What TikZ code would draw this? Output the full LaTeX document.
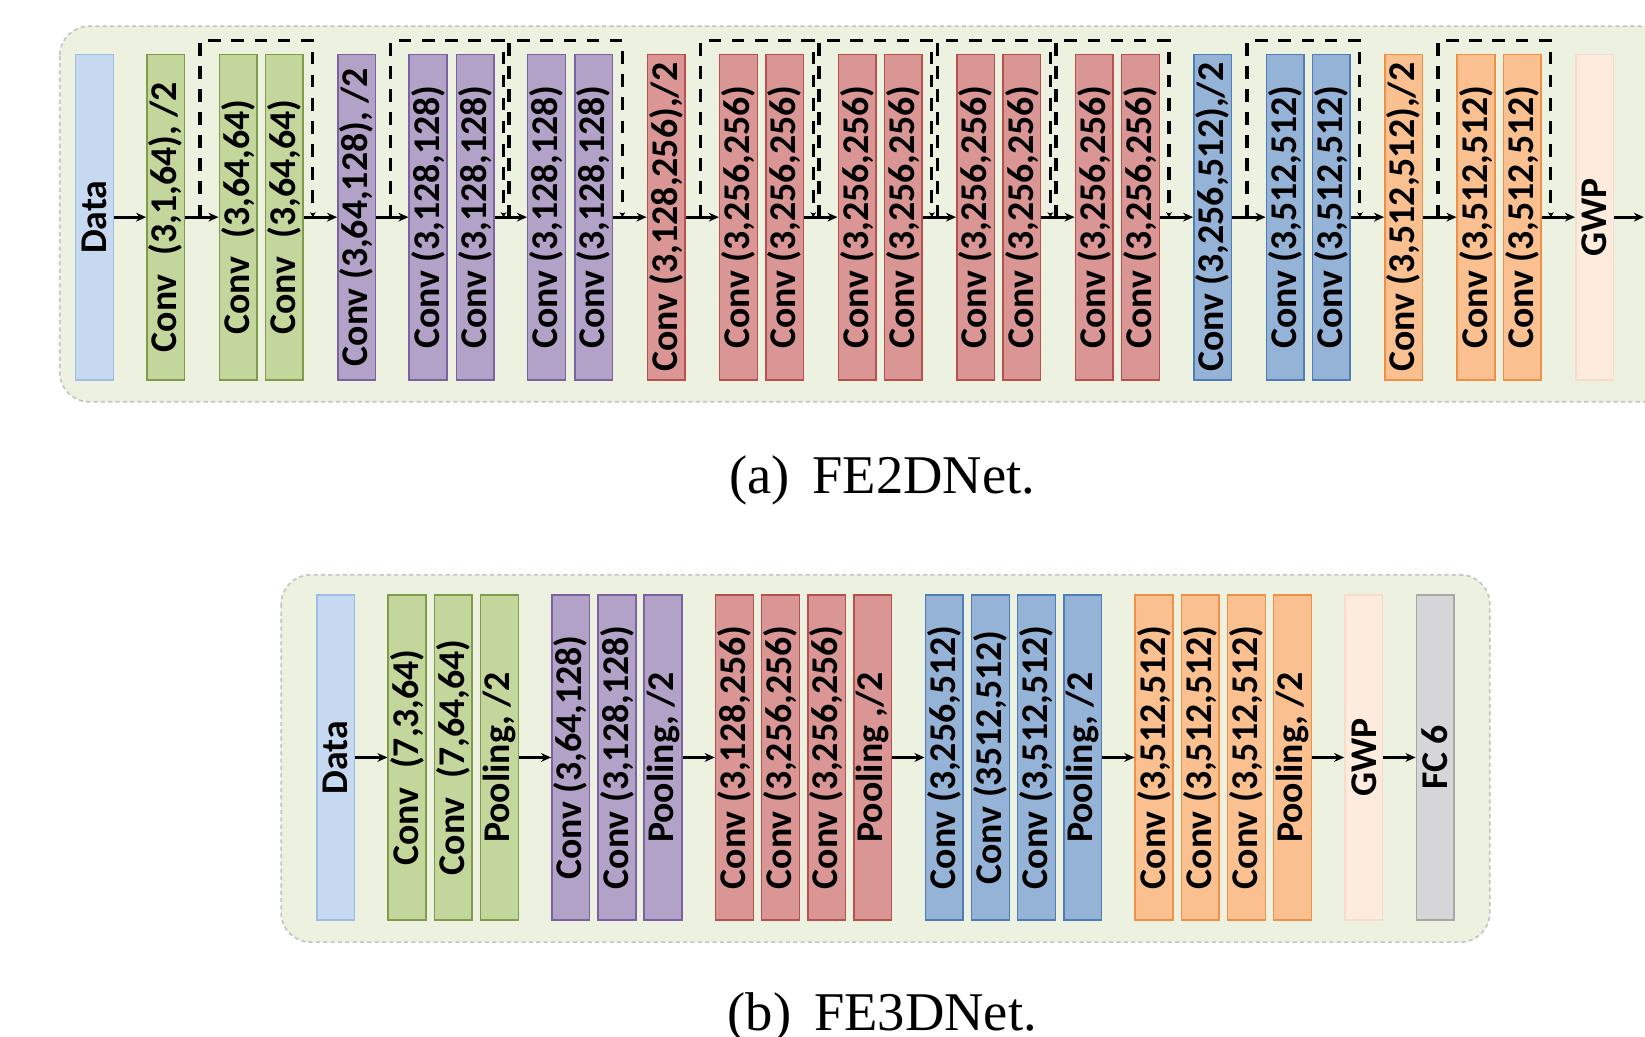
\documentclass[tikz,border=0pt]{standalone}
\usepackage{fontspec}
\newfontfamily\boxfont{Carlito}
\newfontfamily\capfont{Liberation Serif}
\usetikzlibrary{arrows.meta,calc}
\definecolor{panelfill}{HTML}{EDF2E0}
\definecolor{panelline}{HTML}{C4C6C0}
\definecolor{dataF}{HTML}{C6D9F1}
\definecolor{dataD}{HTML}{9DBCE6}
\definecolor{grnF}{HTML}{C3D69B}
\definecolor{grnD}{HTML}{809C4A}
\definecolor{purF}{HTML}{B3A2C7}
\definecolor{purD}{HTML}{7B62A0}
\definecolor{redF}{HTML}{D99694}
\definecolor{redD}{HTML}{B9504D}
\definecolor{bluF}{HTML}{95B3D7}
\definecolor{bluD}{HTML}{4F7DB8}
\definecolor{orgF}{HTML}{FAC090}
\definecolor{orgD}{HTML}{EE9048}
\definecolor{gwpF}{HTML}{FDEBDD}
\definecolor{gwpD}{HTML}{F8DCCB}
\definecolor{fcF}{HTML}{D6D6D8}
\definecolor{fcD}{HTML}{A8A8A8}
\newcommand{\rt}[1]{\rotatebox{90}{#1}}
\newcommand{\skipc}[4]{\draw[skipline] ($(#1.east)!0.44!(#2.west)$) -- ++(0,-168) -| ($(#3.east)!0.27!(#4.west)$);}
\begin{document}
\begin{tikzpicture}[x=0.5pt,y=-0.5pt,
  blkbox/.style={draw, line width=0.7pt, minimum width=18pt, minimum height=155pt, inner sep=0pt,
    font=\boxfont\bfseries\fontsize{18}{20}\selectfont},
  databox/.style={blkbox, fill=dataF, draw=dataD},
  grnbox/.style={blkbox, fill=grnF, draw=grnD},
  purbox/.style={blkbox, fill=purF, draw=purD},
  redbox/.style={blkbox, fill=redF, draw=redD},
  blubox/.style={blkbox, fill=bluF, draw=bluD},
  orgbox/.style={blkbox, fill=orgF, draw=orgD},
  gwpbox/.style={blkbox, fill=gwpF, draw=gwpD},
  fcbox/.style={blkbox, fill=fcF, draw=fcD},
  arrline/.style={-{Stealth[length=4.8pt,width=4.2pt]}, line width=1.5pt},
  skipline/.style={-{Stealth[length=2.4pt,width=2.8pt]}, line width=1.5pt, dash pattern=on 6pt off 5pt},
  panelbox/.style={fill=panelfill, draw=panelline, line width=0.8pt, dash pattern=on 2pt off 1.5pt, rounded corners=14pt},
  captext/.style={font=\capfont\fontsize{26}{30}\selectfont, anchor=base, inner sep=0pt}]
\useasboundingbox (0,0) rectangle (1568,988);
\fill[white] (0,0) rectangle (1568,988);
\clip (0,0) rectangle (1568,988);
% panels
\draw[panelbox] (57,25) rectangle (1640,383);
\draw[panelbox] (268,548) rectangle (1420,898);
% ---------- FE2DNet ----------
\node[databox] (t1) at (90,207) {\rt{Data}};
\node[grnbox] (t2) at (158,207) {\rt{Conv\hspace{0.5em}(3,1,64), /2}};
\node[grnbox] (t3) at (227,207) {\rt{Conv\hspace{0.5em}(3,64,64)}};
\node[grnbox] (t4) at (271,207) {\rt{Conv\hspace{0.5em}(3,64,64)}};
\node[purbox] (t5) at (340,207) {\rt{Conv (3,64,128), /2}};
\node[purbox] (t6) at (408,207) {\rt{Conv (3,128,128)}};
\node[purbox] (t7) at (453,207) {\rt{Conv (3,128,128)}};
\node[purbox] (t8) at (521,207) {\rt{Conv (3,128,128)}};
\node[purbox] (t9) at (566,207) {\rt{Conv (3,128,128)}};
\node[redbox] (t10) at (635,207) {\rt{Conv (3,128,256),/2}};
\node[redbox] (t11) at (704,207) {\rt{Conv (3,256,256)}};
\node[redbox] (t12) at (748,207) {\rt{Conv (3,256,256)}};
\node[redbox] (t13) at (817,207) {\rt{Conv (3,256,256)}};
\node[redbox] (t14) at (861,207) {\rt{Conv (3,256,256)}};
\node[redbox] (t15) at (930,207) {\rt{Conv (3,256,256)}};
\node[redbox] (t16) at (974,207) {\rt{Conv (3,256,256)}};
\node[redbox] (t17) at (1043,207) {\rt{Conv (3,256,256)}};
\node[redbox] (t18) at (1087,207) {\rt{Conv (3,256,256)}};
\node[blubox] (t19) at (1156,207) {\rt{Conv (3,256,512),/2}};
\node[blubox] (t20) at (1225,207) {\rt{Conv (3,512,512)}};
\node[blubox] (t21) at (1269,207) {\rt{Conv (3,512,512)}};
\node[orgbox] (t22) at (1338,207) {\rt{Conv (3,512,512),/2}};
\node[orgbox] (t23) at (1407,207) {\rt{Conv (3,512,512)}};
\node[orgbox] (t24) at (1451,207) {\rt{Conv (3,512,512)}};
\node[gwpbox] (t25) at (1520,207) {\rt{GWP}};
\coordinate (tend) at (1567,207);
\foreach \a/\b in {t1/t2,t2/t3,t4/t5,t5/t6,t7/t8,t9/t10,t10/t11,t12/t13,t14/t15,t16/t17,t18/t19,t19/t20,t21/t22,t22/t23,t24/t25,t25/tend}
  \draw[arrline] (\a) -- (\b);
\skipc{t2}{t3}{t4}{t5}
\skipc{t5}{t6}{t7}{t8}
\skipc{t7}{t8}{t9}{t10}
\skipc{t10}{t11}{t12}{t13}
\skipc{t12}{t13}{t14}{t15}
\skipc{t14}{t15}{t16}{t17}
\skipc{t16}{t17}{t18}{t19}
\skipc{t19}{t20}{t21}{t22}
\skipc{t22}{t23}{t24}{t25}
\node[captext] (capa) at (841,470) {(a)\hspace{0.42em}FE2DNet.};
% ---------- FE3DNet ----------
\node[databox] (b1) at (320,722) {\rt{Data}};
\node[grnbox] (b2) at (388,722) {\rt{Conv\hspace{0.5em}(7,3,64)}};
\node[grnbox] (b3) at (432,722) {\rt{Conv\hspace{0.5em}(7,64,64)}};
\node[grnbox] (b4) at (476,722) {\rt{Pooling, /2}};
\node[purbox] (b5) at (544,722) {\rt{Conv (3,64,128)}};
\node[purbox] (b6) at (588,722) {\rt{Conv (3,128,128)}};
\node[purbox] (b7) at (632,722) {\rt{Pooling, /2}};
\node[redbox] (b8) at (700,722) {\rt{Conv (3,128,256)}};
\node[redbox] (b9) at (744,722) {\rt{Conv (3,256,256)}};
\node[redbox] (b10) at (788,722) {\rt{Conv (3,256,256)}};
\node[redbox] (b11) at (832,722) {\rt{Pooling ,/2}};
\node[blubox] (b12) at (900,722) {\rt{Conv (3,256,512)}};
\node[blubox] (b13) at (944,722) {\rt{Conv (3512,512)}};
\node[blubox] (b14) at (988,722) {\rt{Conv (3,512,512)}};
\node[blubox] (b15) at (1032,722) {\rt{Pooling, /2}};
\node[orgbox] (b16) at (1100,722) {\rt{Conv (3,512,512)}};
\node[orgbox] (b17) at (1144,722) {\rt{Conv (3,512,512)}};
\node[orgbox] (b18) at (1188,722) {\rt{Conv (3,512,512)}};
\node[orgbox] (b19) at (1232,722) {\rt{Pooling, /2}};
\node[gwpbox] (b20) at (1300,722) {\rt{GWP}};
\node[fcbox] (b21) at (1368,722) {\rt{FC 6}};
\foreach \a/\b in {b1/b2,b4/b5,b7/b8,b11/b12,b15/b16,b19/b20,b20/b21}
  \draw[arrline] (\a) -- (\b);
\node[captext] (capb) at (841,982) {(b)\hspace{0.42em}FE3DNet.};
\end{tikzpicture}
\end{document}
